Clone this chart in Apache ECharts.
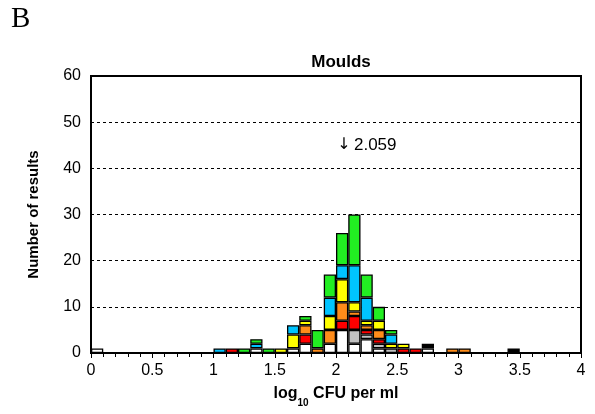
<!DOCTYPE html>
<html>
<head>
<meta charset="utf-8">
<script src="https://cdn.jsdelivr.net/npm/echarts@6/dist/echarts.min.js"></script>
<style>
  html, body { margin: 0; padding: 0; background: #fff; }
  #chart { width: 595px; height: 414px; }
</style>
</head>
<body>
<div id="chart"></div>
<script>
// Histogram bins of width 0.1 log10 CFU/ml, from 0.0–0.1 up to 3.9–4.0
const binStarts = Array.from({ length: 40 }, (_, i) => (i / 10).toFixed(1));

// Number of results per bin, one list per group (stacked bottom to top)
const whiteCounts  = [1,0,0,0,0,0,0,0,0,0, 0,0,0,1,0,0,1,2,0,2, 5,2,3,1,0,0,0,1,0,0, 0,0,0,0,0,0,0,0,0,0];
const greyCounts   = [0,0,0,0,0,0,0,0,0,0, 0,0,0,0,0,0,0,0,0,0, 0,3,1,1,1,0,0,0,0,0, 0,0,0,0,0,0,0,0,0,0];
const redCounts    = [0,0,0,0,0,0,0,0,0,0, 0,1,0,0,0,0,0,2,0,0, 2,3,1,1,0,1,1,0,0,0, 0,0,0,0,0,0,0,0,0,0];
const orangeCounts = [0,0,0,0,0,0,0,0,0,0, 0,0,0,0,0,0,0,2,1,3, 4,1,1,2,0,0,0,0,0,1, 1,0,0,0,0,0,0,0,0,0];
const yellowCounts = [0,0,0,0,0,0,0,0,0,0, 0,0,0,0,0,1,3,1,0,3, 5,2,1,2,1,1,0,0,0,0, 0,0,0,0,0,0,0,0,0,0];
const blueCounts   = [0,0,0,0,0,0,0,0,0,0, 1,0,0,1,0,0,2,0,0,4, 3,8,5,0,2,0,0,0,0,0, 0,0,0,0,0,0,0,0,0,0];
const greenCounts  = [0,0,0,0,0,0,0,0,0,0, 0,0,1,1,1,0,0,1,4,5, 7,11,5,3,1,0,0,0,0,0, 0,0,0,0,0,0,0,0,0,0];
const blackCounts  = [0,0,0,0,0,0,0,0,0,0, 0,0,0,0,0,0,0,0,0,0, 0,0,0,0,0,0,0,1,0,0, 0,0,0,0,1,0,0,0,0,0];

// Assigned value marked with an arrow
const assignedValue = 2.059;
const assignedLabelY = 45;

const groups = [
  { name: 'white',  data: whiteCounts,  color: '#ffffff' },
  { name: 'grey',   data: greyCounts,   color: '#c0c0c0' },
  { name: 'red',    data: redCounts,    color: '#ff0000' },
  { name: 'orange', data: orangeCounts, color: '#ff8c1a' },
  { name: 'yellow', data: yellowCounts, color: '#ffff00' },
  { name: 'blue',   data: blueCounts,   color: '#00c4ff' },
  { name: 'green',  data: greenCounts,  color: '#22ee22' },
  { name: 'black',  data: blackCounts,  color: '#000000' }
];

const FONT = 'Liberation Sans, Arial, sans-serif';

const barSeries = groups.map(g => ({
  name: g.name,
  type: 'bar',
  stack: 'results',
  xAxisIndex: 0,
  yAxisIndex: 0,
  barCategoryGap: 0,
  barGap: 0,
  silent: true,
  itemStyle: { color: g.color, borderColor: '#000', borderWidth: 1.3 },
  data: g.data.map(v => (v === 0 ? '-' : v))
}));

const chart = echarts.init(document.getElementById('chart'), null, { renderer: 'canvas' });

chart.setOption({
  animation: false,
  backgroundColor: '#fff',
  title: {
    text: 'Moulds',
    left: 336,
    top: 49,
    textAlign: 'center',
    textStyle: { fontFamily: FONT, fontWeight: 'bold', fontSize: 17, color: '#000' }
  },
  graphic: [{
    type: 'text',
    left: 11,
    top: 5,
    style: { text: 'B', font: '29px "Liberation Serif", "Times New Roman", serif', fill: '#000' }
  }],
  grid: {
    left: 91, right: 14, top: 76, bottom: 61,
    show: true, borderColor: '#000', borderWidth: 2, backgroundColor: 'transparent'
  },
  xAxis: [
    {
      type: 'category',
      data: binStarts,
      show: false,
      boundaryGap: true
    },
    {
      type: 'value',
      min: 0, max: 4, interval: 0.5,
      position: 'bottom',
      axisLine: { show: true, lineStyle: { color: '#000', width: 2 } },
      axisTick: { show: true, inside: false, length: 5, lineStyle: { color: '#000', width: 1 } },
      minorTick: { show: true, splitNumber: 5, length: 4, lineStyle: { color: '#000', width: 1 } },
      splitLine: { show: false },
      axisLabel: {
        color: '#000', fontFamily: FONT, fontSize: 16, margin: 10,
        formatter: v => String(v)
      },
      name: '{b|log}{s|10}{b| CFU per ml}',
      nameLocation: 'middle',
      nameGap: 33,
      nameTextStyle: {
        rich: {
          b: { fontFamily: FONT, fontWeight: 'bold', fontSize: 16, color: '#000', verticalAlign: 'bottom' },
          s: { fontFamily: FONT, fontWeight: 'bold', fontSize: 10, color: '#000', verticalAlign: 'bottom', padding: [0, 0, -6, 0] }
        }
      }
    }
  ],
  yAxis: {
    type: 'value',
    min: 0, max: 60, interval: 10,
    axisLine: { show: true, lineStyle: { color: '#000', width: 2 } },
    axisTick: { show: false },
    splitLine: { show: true, lineStyle: { color: '#000', width: 1, type: [3, 3] } },
    axisLabel: { color: '#000', fontFamily: FONT, fontSize: 16, margin: 10 },
    name: 'Number of results',
    nameLocation: 'middle',
    nameGap: 50,
    nameTextStyle: { fontFamily: FONT, fontWeight: 'bold', fontSize: 15, color: '#000' }
  },
  series: barSeries.concat([{
    type: 'scatter',
    xAxisIndex: 1,
    yAxisIndex: 0,
    symbol: 'circle',
    symbolSize: 0,
    silent: true,
    itemStyle: { opacity: 1, color: '#000' },
    data: [[assignedValue, assignedLabelY]],
    label: {
      show: true,
      position: [-6, 0],
      align: 'left',
      verticalAlign: 'middle',
      formatter: '{a|↓} {t|' + assignedValue.toFixed(3) + '}',
      rich: {
        a: { fontFamily: 'DejaVu Sans, sans-serif', fontSize: 16, color: '#000' },
        t: { fontFamily: FONT, fontSize: 17, color: '#000' }
      }
    }
  }])
});
</script>
</body>
</html>
